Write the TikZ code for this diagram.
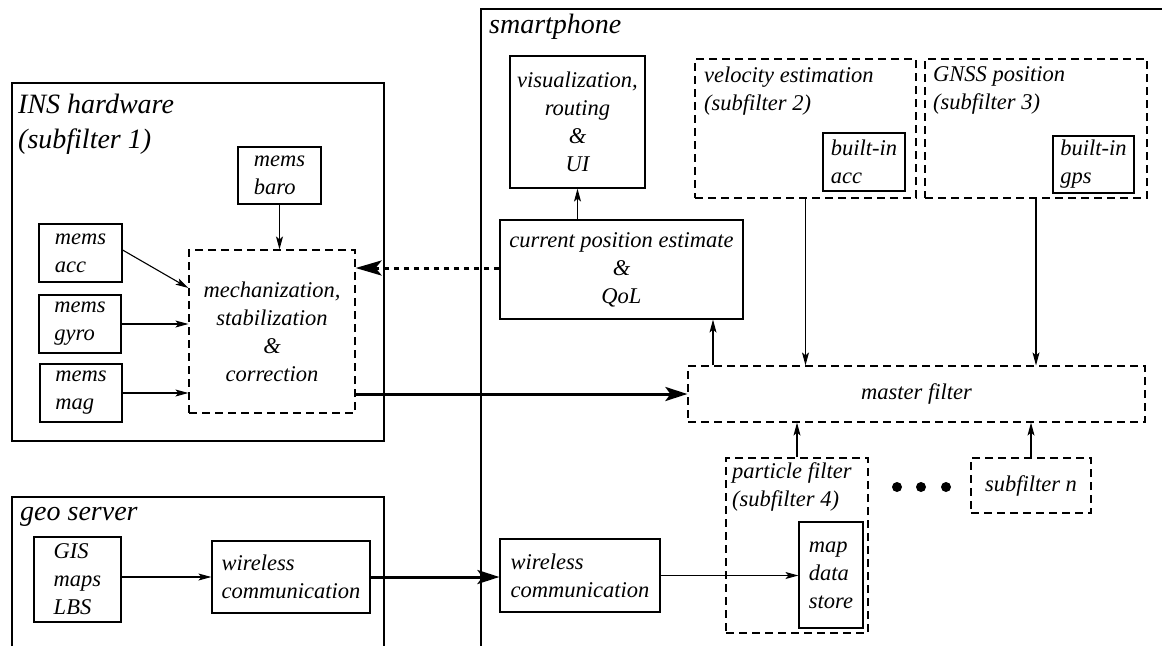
\documentclass[tikz,border=0pt]{standalone}
\usepackage{fontspec}
\newfontfamily\tmsit{Liberation Serif Italic}
\def\bodysize{22.5}\def\titlesize{28}
\usetikzlibrary{arrows.meta,calc}
\begin{document}
\begin{tikzpicture}[x=1pt,y=-1pt,
  every node/.style={font=\tmsit\fontsize{\bodysize}{28}\selectfont, inner sep=0pt, text=black},
  sbox/.style={draw, line width=1.2pt, align=left},
  cbox/.style={draw, line width=1.2pt, align=center},
  dbox/.style={draw, line width=1.2pt, dash pattern=on 8pt off 5pt, align=center},
  lbl/.style={anchor=north west, align=left},
  ttl/.style={font=\tmsit\fontsize{\titlesize}{36}\selectfont, align=left},
  frame/.style={line width=1.2pt},
  tarrow/.style={line width=1.1pt, -{Stealth[length=13pt,width=7pt,inset=3pt]}},
  barrow/.style={line width=3pt, -{Stealth[length=22pt,width=14pt,inset=5pt]}},
  darrow/.style={line width=3pt, dash pattern=on 5pt off 5pt, -{Stealth[length=26pt,width=15pt,inset=6pt]}},
  dot/.style={circle, fill=black, minimum size=10pt}
]
\useasboundingbox (0,0) rectangle (1162,646);

% containers
\draw[frame] (12,83) rectangle (384,441);
\draw[frame] (1162,9) -- (481,9) -- (481,646);
\draw[frame] (12,646) -- (12,497) -- (384,497) -- (384,646);

% titles
\node[ttl, anchor=north west] (tins) at (18,94) {INS hardware\\[-1pt](subfilter 1)};
\node[ttl, anchor=base west] (tphone) at (489,33) {smartphone};
\node[ttl, anchor=base west] (tgeo) at (20,520) {geo server};

% INS hardware
\node[sbox, minimum width=83pt, minimum height=57pt] (baro) at (279.5,175.5) {mems\\baro};
\node[sbox, minimum width=83pt, minimum height=58pt] (acc) at (80.5,253) {mems\\acc};
\node[sbox, minimum width=82pt, minimum height=58pt] (gyro) at (80,324) {mems\\gyro};
\node[sbox, minimum width=82pt, minimum height=58pt] (mag) at (81,393) {mems\\mag};
\node[dbox, minimum width=166pt, minimum height=163pt] (mech) at (272,331.5) {mechanization,\\stabilization\\\&\\correction};

% smartphone
\node[cbox, minimum width=135pt, minimum height=132pt] (vis) at (577.5,122) {visualization,\\routing\\\&\\UI};
\node[cbox, minimum width=243pt, minimum height=99pt] (cur) at (621.5,269.5) {current position estimate\\\&\\QoL};
\node[dbox, minimum width=221pt, minimum height=139pt] (vel) at (805.5,128.5) {};
\node[lbl] (veltxt) at (704,66.6) {velocity estimation\\(subfilter 2)};
\node[sbox, minimum width=82pt, minimum height=58pt] (bacc) at (864,162) {built-in\\acc};
\node[dbox, minimum width=222pt, minimum height=139pt] (gnss) at (1036,128.5) {};
\node[lbl] (gnsstxt) at (933,66.8) {GNSS position\\(subfilter 3)};
\node[sbox, minimum width=81pt, minimum height=57pt] (gps) at (1093.5,164.5) {built-in\\gps};
\node[dbox, minimum width=457pt, minimum height=56pt] (master) at (916.5,394) {master filter};
\node[dbox, minimum width=142pt, minimum height=175pt] (part) at (797,545.5) {};
\node[lbl] (parttxt) at (732,462.6) {particle filter\\(subfilter 4)};
\node[sbox, minimum width=64pt, minimum height=106pt] (mapds) at (831,575) {map\\data\\store};
\node[dot] (d1) at (897,487) {};
\node[dot] (d2) at (921,487) {};
\node[dot] (d3) at (946,487) {};
\node[dbox, minimum width=120pt, minimum height=55pt] (subn) at (1031,485.5) {subfilter n};
\node[sbox, minimum width=160pt, minimum height=73pt] (wl2) at (580,575.5) {wireless\\communication};

% geo server
\node[sbox, minimum width=87pt, minimum height=85pt] (gis) at (77.5,579.5) {GIS\\maps\\LBS};
\node[sbox, minimum width=158pt, minimum height=72pt] (wl1) at (291,577) {wireless\\communication};

% connectors
\draw[tarrow] (baro.south) -- (baro.south |- mech.north);
\draw[tarrow] ([yshift=3pt]acc.east) -- ([yshift=43.5pt]mech.west);
\draw[tarrow] (gyro.east) -- (gyro.east -| mech.west);
\draw[tarrow] (mag.east) -- (mag.east -| mech.west);
\draw[barrow] (mech.east |- master.west) -- (master.west);
\draw[darrow] ([yshift=1.5pt]cur.west) -- ([yshift=1.5pt]cur.west -| mech.east);
\draw[tarrow] (vis.south |- cur.north) -- (vis.south);
\draw[tarrow] ([xshift=-203.5pt]master.north) -- ([xshift=-203.5pt]master.north |- cur.south);
\draw[tarrow] (vel.south) -- (vel.south |- master.north);
\draw[tarrow] (gnss.south) -- (gnss.south |- master.north);
\draw[tarrow] (part.north) -- (part.north |- master.south);
\draw[tarrow] (subn.north) -- (subn.north |- master.south);
\draw[tarrow] (wl2.east) -- (wl2.east -| mapds.west);
\draw[tarrow] (gis.east |- wl1.west) -- (wl1.west);
\draw[barrow] (wl1.east) -- (wl1.east -| wl2.west);
\end{tikzpicture}
\end{document}
